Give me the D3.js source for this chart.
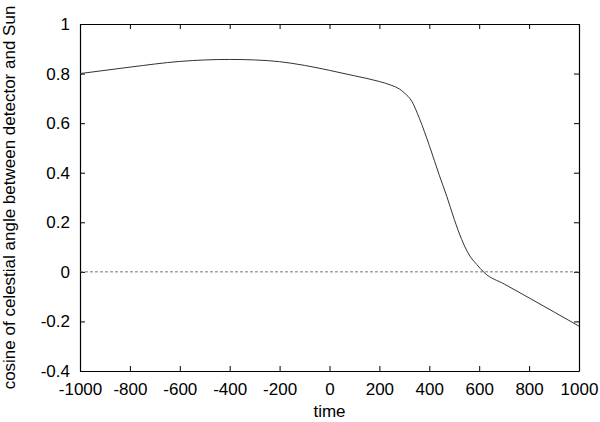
<!DOCTYPE html>
<html>
<head>
<meta charset="utf-8">
<script src="https://cdn.jsdelivr.net/npm/d3@7"></script>
<style>
  body { margin: 0; background: #fff; }
  svg text { font-family: "Liberation Sans", Arial, sans-serif; font-size: 17px; fill: #000; }
</style>
</head>
<body>
<div id="chart"></div>
<script>
// values
const times = [-1000, -800, -600, -500, -400, -300, -200, -100, 0, 100, 200, 250, 280, 300, 330, 360, 400, 440, 470, 500, 530, 560, 590, 620, 700, 800, 900, 1000];
const cosines = [0.800, 0.826, 0.849, 0.855, 0.857, 0.855, 0.848, 0.833, 0.813, 0.791, 0.768, 0.752, 0.738, 0.722, 0.688, 0.620, 0.510, 0.390, 0.305, 0.212, 0.130, 0.068, 0.030, -0.003, -0.049, -0.105, -0.162, -0.219];
const xTicks = [-1000, -800, -600, -400, -200, 0, 200, 400, 600, 800, 1000];
const yTicks = [-0.4, -0.2, 0, 0.2, 0.4, 0.6, 0.8, 1];

const width = 600, height = 422;
const margin = { left: 80, right: 21, top: 24, bottom: 51 };

const svg = d3.select("#chart").append("svg")
  .attr("width", width)
  .attr("height", height);

const x = d3.scaleLinear().domain([-1000, 1000]).range([margin.left, width - margin.right]);
const y = d3.scaleLinear().domain([-0.4, 1]).range([height - margin.bottom, margin.top]);

const data = times.map((t, i) => ({ t: t, v: cosines[i] }));
const tickLen = 5;
// gnuplot style labels use a plain hyphen for minus
const plain = d => String(+d.toFixed(1));

// axes with inward ticks, mirrored on top and right
svg.append("g")
  .attr("transform", "translate(0," + y(-0.4) + ")")
  .call(d3.axisBottom(x).tickValues(xTicks).tickSizeInner(-tickLen).tickSizeOuter(0).tickPadding(10).tickFormat(plain))
  .call(g => g.selectAll("text").attr("dy", "0.8em"));

svg.append("g")
  .attr("transform", "translate(0," + y(1) + ")")
  .call(d3.axisTop(x).tickValues(xTicks).tickSizeInner(-tickLen).tickSizeOuter(0).tickFormat(""));

svg.append("g")
  .attr("transform", "translate(" + x(-1000) + ",0)")
  .call(d3.axisLeft(y).tickValues(yTicks).tickSizeInner(-tickLen).tickSizeOuter(0).tickPadding(10).tickFormat(plain));

svg.append("g")
  .attr("transform", "translate(" + x(1000) + ",0)")
  .call(d3.axisRight(y).tickValues(yTicks).tickSizeInner(-tickLen).tickSizeOuter(0).tickFormat(""));

svg.selectAll(".domain").attr("stroke", "#000").attr("stroke-width", 1.2);
svg.selectAll(".tick line").attr("stroke", "#000");
svg.selectAll(".tick text").style("font-size", "17px");

// dashed zero line
svg.append("line")
  .attr("x1", x(-1000))
  .attr("x2", x(1000))
  .attr("y1", y(0))
  .attr("y2", y(0))
  .attr("stroke", "#555")
  .attr("stroke-width", 0.8)
  .attr("stroke-dasharray", "3,2");

// the curve
const line = d3.line()
  .x(d => x(d.t))
  .y(d => y(d.v))
  .curve(d3.curveMonotoneX);

svg.append("path")
  .datum(data)
  .attr("fill", "none")
  .attr("stroke", "#333")
  .attr("stroke-width", 1)
  .attr("d", line);

// axis labels
svg.append("text")
  .attr("x", (x(-1000) + x(1000)) / 2)
  .attr("y", 417)
  .attr("text-anchor", "middle")
  .text("time");

svg.append("text")
  .attr("transform", "translate(15," + (y(-0.4) + y(1)) / 2 + ") rotate(-90)")
  .attr("text-anchor", "middle")
  .text("cosine of celestial angle between detector and Sun");
</script>
</body>
</html>
